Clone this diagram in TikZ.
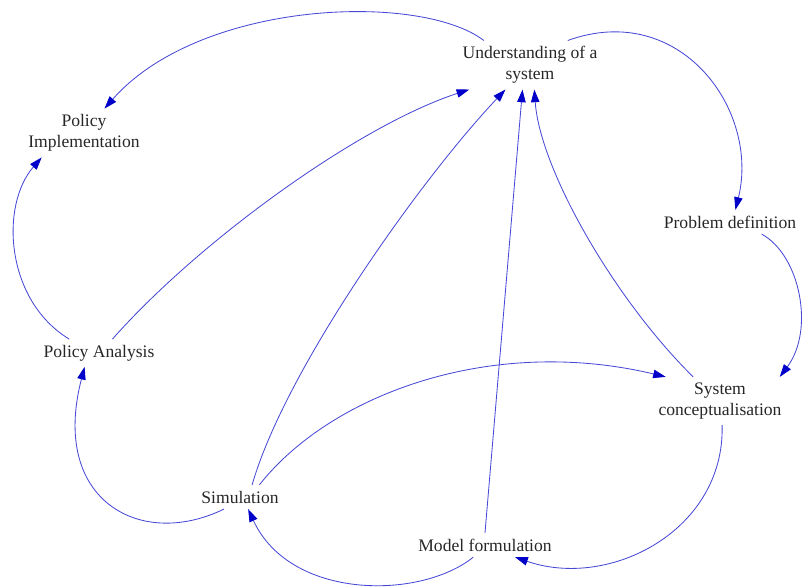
\documentclass[tikz,border=0pt]{standalone}
\usepackage{fontspec}
\setmainfont{Liberation Serif}
\usetikzlibrary{arrows.meta}
\definecolor{linkblue}{RGB}{72,72,215}
\definecolor{tipblue}{RGB}{0,0,200}
\tikzset{v/.style={align=center,inner xsep=2pt,inner ysep=4pt,text=black!85,font=\fontsize{12.5}{15}\selectfont}}
\tikzset{fl/.style={draw=linkblue,line width=0.6pt,-{Triangle[length=9pt,width=6pt,color=tipblue]}}}

\begin{document}
\begin{tikzpicture}[x=0.025cm,y=-0.025cm]
  \useasboundingbox (0,0) rectangle (803,587);
  \node[v] (U) at (530,65) {Understanding of a\\system};
  \node[v] (PI) at (84,133) {Policy\\Implementation};
  \node[v] (PD) at (730,222) {Problem definition};
  \node[v] (PA) at (99,353) {Policy Analysis};
  \node[v] (SC) at (720,401) {System\\conceptualisation};
  \node[v] (SIM) at (240,497) {Simulation};
  \node[v] (MF) at (485,545) {Model formulation};
  % outer loop
  \draw[fl] (U.152) .. controls (420,-8) and (200,0) .. (PI.50);
  \draw[fl] (U.33) .. controls (680,0) and (760,110) .. (PD.66);
  \draw[fl] (PD.339) .. controls (800,255) and (815,330) .. (SC.22);
  \draw[fl] (SC.275) .. controls (725,530) and (610,590) .. (MF.338);
  \draw[fl] (MF.226) .. controls (420,600) and (290,600) .. (SIM.304);
  \draw[fl] (SIM.217) .. controls (140,550) and (50,500) .. (PA.224);
  \draw[fl] (PA.155) .. controls (5,300) and (0,205) .. (PI.210);
  % back to understanding
  \draw[fl] (SC.138) .. controls (615,300) and (540,170) .. (U.280);
  \draw[fl] (PA.46) .. controls (200,240) and (360,125) .. (U.202);
  \draw[fl] (SIM.45) .. controls (285,370) and (420,180) .. (U.225);
  \draw[fl] (MF.north) -- (U.253);
  \draw[fl] (SIM.32) .. controls (330,395) and (490,335) .. (SC.156);
\end{tikzpicture}
\end{document}
